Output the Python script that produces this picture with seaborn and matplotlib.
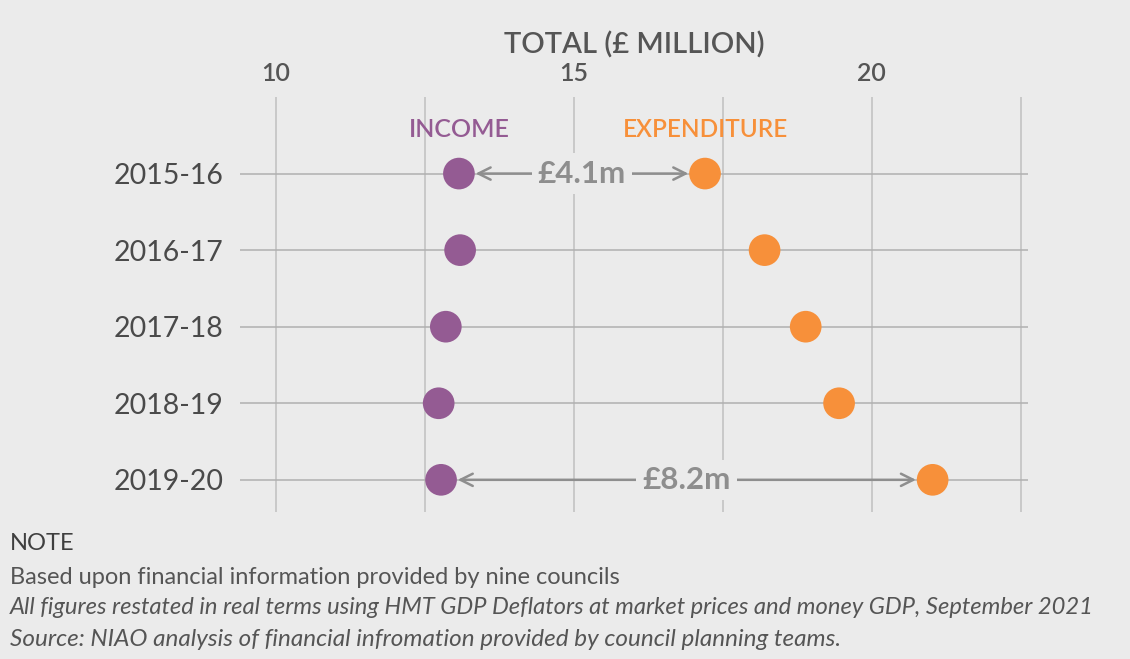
import numpy as np
import pandas as pd
import seaborn as sns
import matplotlib.pyplot as plt

years = ["2015-16", "2016-17", "2017-18", "2018-19", "2019-20"]
income = [13.07, 13.09, 12.85, 12.73, 12.77]
expenditure = [17.20, 18.20, 18.89, 19.45, 21.02]
gap_labels = {"2015-16": "£4.1m", "2019-20": "£8.2m"}
x_ticks = [10, 12.5, 15, 17.5, 20, 22.5]
x_ticklabels = ["10", "", "15", "", "20", ""]

bg = "#ebebeb"
c_inc = "#945b93"
c_exp = "#f7903a"
c_txt = "#555555"
c_arrow = "#8e8e8e"

df = pd.DataFrame({
    "year": years * 2,
    "value": income + expenditure,
    "kind": ["Income"] * len(years) + ["Expenditure"] * len(years),
})

sns.set_theme(style="white")
plt.rcParams["font.family"] = ["Lato", "DejaVu Sans"]

fig = plt.figure(figsize=(11.3, 6.59), dpi=100, facecolor=bg)
ax = fig.add_axes([0.2124, 0.2231, 0.6973, 0.6297])
ax.set_facecolor(bg)

sns.scatterplot(data=df, x="value", y="year", hue="kind",
                palette={"Income": c_inc, "Expenditure": c_exp},
                s=520, linewidth=0, legend=False, zorder=3, ax=ax)

ax.set_xlim(9.396, 22.62)
ax.set_ylim(4.42, -1.0)

# gap arrows
for yr, lab in gap_labels.items():
    i = years.index(yr)
    a, b = income[i], expenditure[i]
    ax.annotate("", xy=(a, yr), xytext=(b, yr),
                arrowprops=dict(arrowstyle="<->", color=c_arrow, lw=1.8,
                                shrinkA=12, shrinkB=12, mutation_scale=22),
                zorder=2)
    ax.text((a + b) / 2, yr, lab, ha="center", va="center", fontsize=22.5,
            fontweight="bold", color=c_arrow, zorder=2.5,
            bbox=dict(boxstyle="square,pad=0.2", fc=bg, ec="none"))

ax.text(income[0], -0.57, "INCOME", ha="center", va="center", fontsize=18,
        color=c_inc, fontweight="semibold")
ax.text(expenditure[0], -0.57, "EXPENDITURE", ha="center", va="center",
        fontsize=17.5, color=c_exp, fontweight="semibold")

ax.set_xticks(x_ticks)
ax.set_xticklabels(x_ticklabels)
ax.xaxis.tick_top()
ax.xaxis.set_label_position("top")
ax.set_xlabel("TOTAL (£ MILLION)", fontsize=21, color=c_txt, labelpad=6,
              fontweight="semibold")
ax.set_ylabel("")
ax.tick_params(axis="x", length=0, pad=9, labelsize=18, labelcolor=c_txt)
ax.tick_params(axis="y", length=0, pad=12, labelsize=20.5, labelcolor="#4a4a4a")
for lbl in ax.get_xticklabels():
    lbl.set_fontweight("semibold")

ax.xaxis.grid(True, color="#c6c6c6", lw=1.3)
ax.yaxis.grid(True, color="#b0b0b0", lw=1.1)
ax.set_axisbelow(True)
sns.despine(ax=ax, left=True, bottom=True, top=True, right=True)

fig.text(0.009, 1 - 544 / 659, "NOTE", fontsize=17, color="#3f3f3f", va="center")
fig.text(0.009, 1 - 577 / 659, "Based upon financial information provided by nine councils",
         fontsize=17, color=c_txt, va="center")
fig.text(0.009, 1 - 608 / 659,
         "All figures restated in real terms using HMT GDP Deflators at market prices and money GDP, September 2021",
         fontsize=17.1, color=c_txt, va="center", style="italic")
fig.text(0.009, 1 - 639 / 659,
         "Source: NIAO analysis of financial infromation provided by council planning teams.",
         fontsize=17.5, color=c_txt, va="center", style="italic")

fig.savefig("out.png", dpi=100, facecolor=bg)
